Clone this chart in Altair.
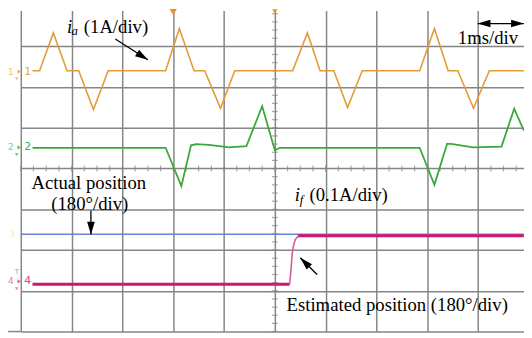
import altair as alt
import pandas as pd

# time in ms (1 ms/div, 0 = screen centre); amplitude in divisions (0 = centre line)
ia_t = [-4.77, -4.63, -4.36, -4.09, -3.86, -3.57, -3.28, -2.15, -1.88, -1.59, -1.38, -1.07, -0.79,
        0.35, 0.64, 0.89, 1.16, 1.43, 1.72, 2.85, 3.14, 3.41, 3.60, 3.91, 4.22, 4.90]
ia_v = [2.40, 2.40, 3.33, 2.40, 2.40, 1.45, 2.40, 2.40, 3.43, 2.40, 2.40, 1.48, 2.40,
        2.40, 3.33, 2.40, 2.40, 1.50, 2.40, 2.40, 3.44, 2.40, 2.40, 1.48, 2.40, 2.40]

if_t = [-4.77, -2.15, -1.84, -1.65, -1.55, -1.30, -0.90, -0.56, -0.25, 0.00, 0.10,
        2.85, 3.14, 3.39, 3.50, 3.90, 4.46, 4.71, 4.90]
if_v = [0.51, 0.51, -0.43, 0.57, 0.60, 0.58, 0.52, 0.55, 1.53, 0.45, 0.51,
        0.51, -0.40, 0.61, 0.60, 0.52, 0.54, 1.47, 0.93]

act_t = [-5.00, 4.90]
act_v = [-1.61, -1.61]

est_t = [-4.77, 0.29]
est_v = [-2.84, -2.84]
step_t = [0.29, 0.32, 0.34, 0.37, 0.40, 0.44, 0.48]
step_v = [-2.84, -2.45, -2.09, -1.87, -1.75, -1.68, -1.65]
est2_t = [0.46, 4.90]
est2_v = [-1.65, -1.65]

grid_x = [-5, -4, -3, -2, -1, 0, 1, 2, 3, 4]
grid_y = [-4, -3, -2, -1, 0, 1, 2, 3]
minor_y = [round(-4 + 0.2 * i, 2) for i in range(40)]
minor_x = [round(-5 + 0.25 * i, 2) for i in range(40)]

txt_s = ["(1A/div)", "1ms/div", "Actual position", "(180°/div)", "(0.1A/div)",
         "Estimated position (180°/div)"]
txt_t = [-3.76, 3.60, -4.79, -4.40, 0.68, 0.23]
txt_v = [3.33, 3.06, -0.49, -1.02, -0.79, -3.49]

ital_s = ["i", "i"]
ital_t = [-4.09, 0.39]
ital_v = [3.33, -0.79]
sub_s = ["a", "f"]
sub_t = [-4.00, 0.49]
sub_v = [3.27, -0.86]

arr_t = [-3.14, -3.62, 0.83, 3.99]
arr_v = [3.18, -1.03, -2.60, 3.56]
arr_t2 = [-2.50, -3.62, 0.50, 4.90]
arr_v2 = [2.67, -1.62, -2.19, 3.56]
head_t = [-2.50, -3.62, 0.50, 3.99, 4.90]
head_v = [2.67, -1.62, -2.19, 3.56, 3.56]
head_a = [122.5, 180, 315, 270, 90]

# channel markers: small number, pointer, number
mk_s = ["1", "1", "2", "2", "4", "4", "3"]
mk_t = [-5.25, -4.93, -5.25, -4.93, -5.25, -4.93, -5.22]
mk_v = [2.38, 2.38, 0.52, 0.52, -2.77, -2.77, -1.61]
mk_z = [9, 11, 9, 11, 9, 11, 9]
mk_c = ["#f2c070", "#e9a33a", "#7fd07f", "#3cb043", "#ee7fb8", "#e0409a", "#f6efc0"]
ptr_t = [-5.03, -5.03, -5.03]
ptr_v = [2.38, 0.52, -2.77]
ptr_c = ["#f0b050", "#60c060", "#e860a8"]
gnd_t = [-5.08, -5.08, -5.08]
gnd_v = [2.20, 0.34, -2.95]

GRID = "#858585"
X = alt.Scale(domain=[-5, 4.903], nice=False, zero=False)
Y = alt.Scale(domain=[-4, 3.879], nice=False, zero=False)
AX = alt.Axis(values=grid_x, grid=True, gridColor=GRID, gridWidth=1.5, labels=False,
              ticks=False, domain=False, title=None)
AY = alt.Axis(values=grid_y, grid=True, gridColor=GRID, gridWidth=1.5, labels=False,
              ticks=False, domain=False, title=None)


def xe(f="t"):
    return alt.X(f + ":Q", scale=X, axis=AX)


def ye(f="v"):
    return alt.Y(f + ":Q", scale=Y, axis=AY)


def trace(t, v, color, width):
    df = pd.DataFrame({"t": t, "v": v, "o": list(range(len(t)))})
    return alt.Chart(df).mark_line(color=color, strokeWidth=width).encode(
        x=xe(), y=ye(), order="o:Q")


layers = []

# minor ticks on centre lines
layers.append(alt.Chart(pd.DataFrame({"t": [0] * len(minor_y), "v": minor_y}))
              .mark_tick(orient="horizontal", size=6, thickness=1.2, color=GRID)
              .encode(x=xe(), y=ye()))
layers.append(alt.Chart(pd.DataFrame({"t": minor_x, "v": [0] * len(minor_x)}))
              .mark_tick(orient="vertical", size=6, thickness=1.2, color=GRID)
              .encode(x=xe(), y=ye()))
# bottom border extension to the left
layers.append(alt.Chart(pd.DataFrame({"t": [-5.25], "t2": [-5.0], "v": [-4.0]}))
              .mark_rule(color=GRID, strokeWidth=1.5)
              .encode(x=xe(), x2="t2:Q", y=ye()))

layers.append(trace(ia_t, ia_v, "#e39b36", 1.6))
layers.append(trace(if_t, if_v, "#3aa83a", 1.8))
layers.append(trace(act_t, act_v, "#6f80d8", 1.6))
layers.append(trace(est_t, est_v, "#d2166a", 3.2))
layers.append(trace(step_t, step_v, "#d65a9c", 1.6))
layers.append(trace(est2_t, est2_v, "#d2166a", 3.2))

# top markers
layers.append(alt.Chart(pd.DataFrame({"t": [-2.0, 0.0], "v": [3.84, 3.85], "s": [55, 30]}))
              .mark_point(shape="triangle-down", filled=True, color="#e8952a", opacity=1)
              .encode(x=xe(), y=ye(), size=alt.Size("s:Q", scale=None)))

# channel markers
layers.append(alt.Chart(pd.DataFrame({"t": mk_t, "v": mk_v, "s": mk_s, "c": mk_c, "z": mk_z}))
              .mark_text(font="DejaVu Sans", align="left", baseline="middle")
              .encode(x=xe(), y=ye(), text="s:N", color=alt.Color("c:N", scale=None),
                      size=alt.Size("z:Q", scale=None)))
layers.append(alt.Chart(pd.DataFrame({"t": ptr_t, "v": ptr_v, "c": ptr_c}))
              .mark_point(shape="triangle-right", filled=True, opacity=1, size=18)
              .encode(x=xe(), y=ye(), color=alt.Color("c:N", scale=None)))
layers.append(alt.Chart(pd.DataFrame({"t": gnd_t, "v": gnd_v, "c": ptr_c}))
              .mark_point(shape="triangle-down", filled=True, opacity=0.8, size=14)
              .encode(x=xe(), y=ye(), color=alt.Color("c:N", scale=None)))
layers.append(alt.Chart(pd.DataFrame({"t": [-5.08], "v": [-2.55], "s": ["T"]}))
              .mark_text(font="DejaVu Sans", fontSize=7, align="center", baseline="middle",
                         color="#6aa8e0")
              .encode(x=xe(), y=ye(), text="s:N"))

# arrows
layers.append(alt.Chart(pd.DataFrame({"t": arr_t, "v": arr_v, "t2": arr_t2, "v2": arr_v2}))
              .mark_rule(color="black", strokeWidth=1.3)
              .encode(x=xe(), y=ye(), x2="t2:Q", y2="v2:Q"))
layers.append(alt.Chart(pd.DataFrame({"t": head_t, "v": head_v, "a": head_a}))
              .mark_point(shape="M0,0 L0.3,1 L-0.3,1 Z", filled=True, color="black",
                          opacity=1, size=676)
              .encode(x=xe(), y=ye(), angle=alt.Angle("a:Q", scale=None)))

# annotation text
SERIF = "Liberation Serif, Times New Roman, serif"
layers.append(alt.Chart(pd.DataFrame({"t": txt_t, "v": txt_v, "s": txt_s}))
              .mark_text(font=SERIF, fontSize=19, align="left", baseline="alphabetic",
                         color="black")
              .encode(x=xe(), y=ye(), text="s:N"))
layers.append(alt.Chart(pd.DataFrame({"t": ital_t, "v": ital_v, "s": ital_s}))
              .mark_text(font=SERIF, fontSize=19, fontStyle="italic", align="left",
                         baseline="alphabetic", color="black")
              .encode(x=xe(), y=ye(), text="s:N"))
layers.append(alt.Chart(pd.DataFrame({"t": sub_t, "v": sub_v, "s": sub_s}))
              .mark_text(font=SERIF, fontSize=13, fontStyle="italic", align="left",
                         baseline="alphabetic", color="black")
              .encode(x=xe(), y=ye(), text="s:N"))

chart = alt.layer(*layers).properties(
    width=511, height=326,
    autosize=alt.AutoSizeParams(type="none"),
    padding={"left": 13, "top": 0, "right": 0, "bottom": 4},
    background="white",
).configure_view(stroke=None)

chart.save("out.html", embed_options={"renderer": "svg", "actions": False})
